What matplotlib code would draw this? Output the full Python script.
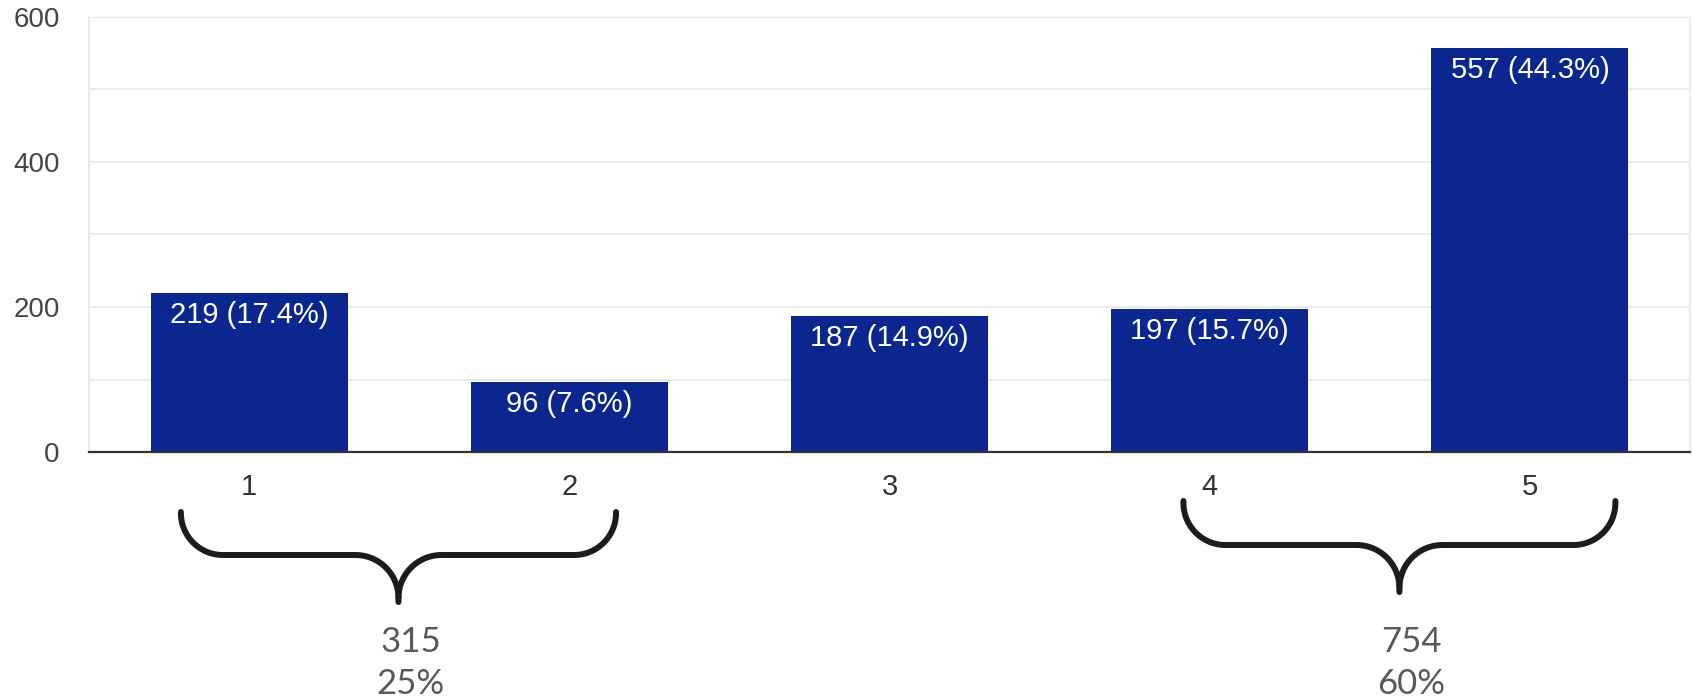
import numpy as np
import matplotlib
matplotlib.use("Agg")
import matplotlib.pyplot as plt
from matplotlib.ticker import MultipleLocator

# ---- data ----
categories = [1, 2, 3, 4, 5]
counts = [219, 96, 187, 197, 557]
pct_labels = ["17.4%", "7.6%", "14.9%", "15.7%", "44.3%"]
group_totals = ["315", "754"]
group_pcts = ["25%", "60%"]

# ---- layout / style ----
W, H = 1694, 697
DPI = 100
BAR_COLOR = "#0c2690"
GRID_COLOR = "#ebebeb"
BRACE_SPANS = [(0.787, 2.146), (3.918, 5.267)]   # data-x extents of braces
BRACE_Y = [(512, 555, 602), (501, 545, 592)]     # pixel rows: top, horizontal, tip

fig = plt.figure(figsize=(W / DPI, H / DPI), dpi=DPI)
fig.patch.set_facecolor("white")

L, R, T, B = 89, 1690, 17, 452
ax = fig.add_axes([L / W, (H - B) / H, (R - L) / W, (B - T) / H])

ax.bar(categories, counts, width=0.615, color=BAR_COLOR, zorder=3)
ax.set_xlim(0.5, 5.5)
ax.set_ylim(0, 600)

ax.yaxis.set_major_locator(MultipleLocator(200))
ax.yaxis.set_minor_locator(MultipleLocator(100))
ax.set_xticks(categories)
ax.set_xticklabels([str(c) for c in categories])
ax.grid(axis="y", which="both", color=GRID_COLOR, linewidth=1.5, zorder=0)
ax.grid(axis="x", visible=False)

ax.spines["top"].set_visible(False)
ax.spines["left"].set_color(GRID_COLOR)
ax.spines["left"].set_linewidth(1.5)
ax.spines["right"].set_color(GRID_COLOR)
ax.spines["right"].set_linewidth(1.5)
ax.spines["bottom"].set_color("#333333")
ax.spines["bottom"].set_linewidth(1.6)
ax.spines["bottom"].set_zorder(4)

ax.tick_params(axis="y", which="both", length=0, pad=21, labelsize=20,
               labelcolor="#444444")
ax.tick_params(axis="x", length=0, pad=15, labelsize=21, labelcolor="#333333")
for lab in ax.get_yticklabels() + ax.get_xticklabels():
    lab.set_fontfamily("Liberation Sans")

for x, v, p in zip(categories, counts, pct_labels):
    ax.annotate(f"{v} ({p})", xy=(x, v), xytext=(0, -5.5), textcoords="offset points",
                ha="center", va="top", color="white", fontsize=21,
                family="Liberation Sans", zorder=5)

# ---- overlay for braces (pixel coordinates) ----
ov = fig.add_axes([0, 0, 1, 1])
ov.set_xlim(0, W)
ov.set_ylim(H, 0)
ov.axis("off")
ov.patch.set_alpha(0)

fig.canvas.draw()


def data_to_px(x):
    return ax.transData.transform((x, 0))[0]


def brace_path(x0, x1, ytop, yh, ytip, r=42):
    xc = (x0 + x1) / 2
    pts = []
    t = np.linspace(np.pi, np.pi / 2, 30)
    cx, cy = x0 + r, yh - r
    pts += list(zip(cx + r * np.cos(t), cy + r * np.sin(t)))
    rr = ytip - yh - 4
    t = np.linspace(-np.pi / 2, 0, 30)
    cx, cy = xc - rr, yh + rr
    pts += list(zip(cx + rr * np.cos(t), cy + rr * np.sin(t)))
    pts.append((xc, ytip))
    t = np.linspace(np.pi, 3 * np.pi / 2, 30)
    cx, cy = xc + rr, yh + rr
    pts2 = list(zip(cx + rr * np.cos(t), cy + rr * np.sin(t)))
    t = np.linspace(np.pi / 2, 0, 30)
    cx, cy = x1 - r, yh - r
    pts3 = list(zip(cx + r * np.cos(t), cy + r * np.sin(t)))
    left = [(x0, ytop)] + pts
    right = pts2 + pts3 + [(x1, ytop)]
    return left, right


for (d0, d1), (yt, yh, ytip), tot, pc in zip(BRACE_SPANS, BRACE_Y, group_totals, group_pcts):
    x0, x1 = data_to_px(d0), data_to_px(d1)
    left, right = brace_path(x0, x1, yt, yh, ytip)
    for seg in (left, right):
        xs, ys = zip(*seg)
        ov.plot(xs, ys, color="#1c1c1c", linewidth=4.3, solid_capstyle="round",
                solid_joinstyle="round")
    xc = (x0 + x1) / 2 + 12
    ov.text(xc, 652, tot, ha="center", va="baseline", fontsize=25,
            family="Lato", color="#595959")
    ov.text(xc, 694, pc, ha="center", va="baseline", fontsize=25,
            family="Lato", color="#595959")

fig.savefig("out.png", dpi=DPI, facecolor="white")
